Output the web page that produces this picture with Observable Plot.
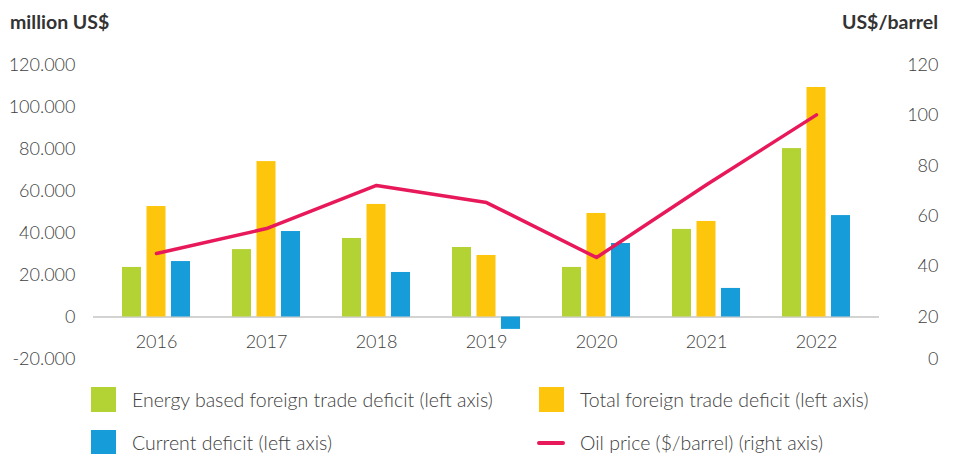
<!DOCTYPE html>
<html><head><meta charset="utf-8">
<script src="https://cdn.jsdelivr.net/npm/d3@7"></script>
<script src="https://cdn.jsdelivr.net/npm/@observablehq/plot@0.6"></script>
<style>
body{margin:0;background:#fff;font-family:Lato,"Open Sans",sans-serif;}
#wrap{position:relative;width:955px;height:454px;overflow:hidden;}
.ttl{position:absolute;top:9px;font-weight:700;font-size:19.5px;color:#333;line-height:26px;}
#chart{position:absolute;left:0;top:40px;}
.sw{position:absolute;width:25px;height:25px;}
.ln{position:absolute;width:28px;height:3.5px;border-radius:2px;}
.lt{position:absolute;font-size:19.5px;font-weight:300;color:#404040;line-height:25px;white-space:nowrap;}
</style></head><body>
<div id="wrap">
  <div class="ttl" style="left:10px">million US$</div>
  <div class="ttl" style="right:17px">US$/barrel</div>
  <div id="chart"></div>
  <div id="legend"></div>
</div>
<script>
const years = ["2016","2017","2018","2019","2020","2021","2022"];
const energyDeficit  = [23600, 32100, 37400, 33100, 23600, 41700, 80200];
const totalDeficit   = [52600, 74000, 53600, 29300, 49300, 45500, 109300];
const currentDeficit = [26400, 40700, 21200, -5900, 35000, 13600, 48300];
const oilPrice       = [45.2, 55.1, 72.2, 65.4, 43.6, 72.5, 100.2];
const leftTicks  = [-20000, 0, 20000, 40000, 60000, 80000, 100000, 120000];
const rightTicks = [0, 20, 40, 60, 80, 100, 120];
const seriesNames = [
  "Energy based foreign trade deficit (left axis)",
  "Total foreign trade deficit (left axis)",
  "Current deficit (left axis)",
  "Oil price ($/barrel) (right axis)"
];
const seriesColors = ["#b3d334", "#fdc50b", "#159cd9", "#e8195a"];

// right axis (oil price) expressed in left-axis units
const oilToLeft = d3.scaleLinear().domain([0, 20, 120]).range([-20000, 0, 120000]);
const fmt = d3.formatLocale({thousands: ".", grouping: [3], decimal: ",", currency: ["", ""], minus: "-"}).format(",");

const rowsOf = vals => years.map((y, i) => ({year: y, value: vals[i]}));
const oilRows = years.map((y, i) => ({year: y, oil: oilPrice[i]}));

const chart = Plot.plot({
  width: 955, height: 330,
  marginLeft: 93, marginRight: 76, marginTop: 24.5, marginBottom: 11.5,
  style: {fontFamily: "Lato, 'Open Sans', sans-serif", fontSize: "18px", fontWeight: 300, color: "#404040", background: "#fff"},
  x: {type: "band", domain: years, paddingInner: 0.3837, paddingOuter: 0.254, axis: null},
  y: {domain: [-20000, 120000], axis: null},
  marks: [
    Plot.axisY(leftTicks, {anchor: "left", tickSize: 0, tickPadding: 18, tickFormat: fmt, fontSize: 18, label: null}),
    Plot.text(rightTicks, {y: v => oilToLeft(v), text: v => String(v), frameAnchor: "right", textAnchor: "end", dx: 59, fill: "currentColor", fontSize: 18}),
    Plot.ruleY([0], {stroke: "#c4c4c4", strokeWidth: 1.5}),
    Plot.barY(rowsOf(energyDeficit),  {x: "year", y: "value", fill: seriesColors[0], insetRight: 49}),
    Plot.barY(rowsOf(totalDeficit),   {x: "year", y: "value", fill: seriesColors[1], insetLeft: 24.5, insetRight: 24.5}),
    Plot.barY(rowsOf(currentDeficit), {x: "year", y: "value", fill: seriesColors[2], insetLeft: 49}),
    Plot.line(oilRows, {x: "year", y: d => oilToLeft(d.oil), stroke: seriesColors[3], strokeWidth: 3.5, strokeLinecap: "round", strokeLinejoin: "round"}),
    Plot.text(years, {x: d => d, y: 0, dy: 25.5, text: d => d, fill: "currentColor", fontSize: 18})
  ]
});
document.getElementById("chart").appendChild(chart);

// legend
const legend = document.getElementById("legend");
const pos = [
  {sx: 91, tx: 132, top: 387},
  {sx: 539, tx: 580, top: 387},
  {sx: 91, tx: 132, top: 430},
  {sx: 537, tx: 580, top: 430}
];
seriesNames.forEach((name, i) => {
  const p = pos[i];
  const sw = document.createElement("div");
  if (i === 3) {
    sw.className = "ln";
    sw.style.left = p.sx + "px";
    sw.style.top = (p.top + 11) + "px";
  } else {
    sw.className = "sw";
    sw.style.left = p.sx + "px";
    sw.style.top = p.top + "px";
  }
  sw.style.background = seriesColors[i];
  legend.appendChild(sw);
  const t = document.createElement("div");
  t.className = "lt";
  t.style.left = p.tx + "px";
  t.style.top = p.top + "px";
  t.textContent = name;
  legend.appendChild(t);
});
</script>
</body></html>
